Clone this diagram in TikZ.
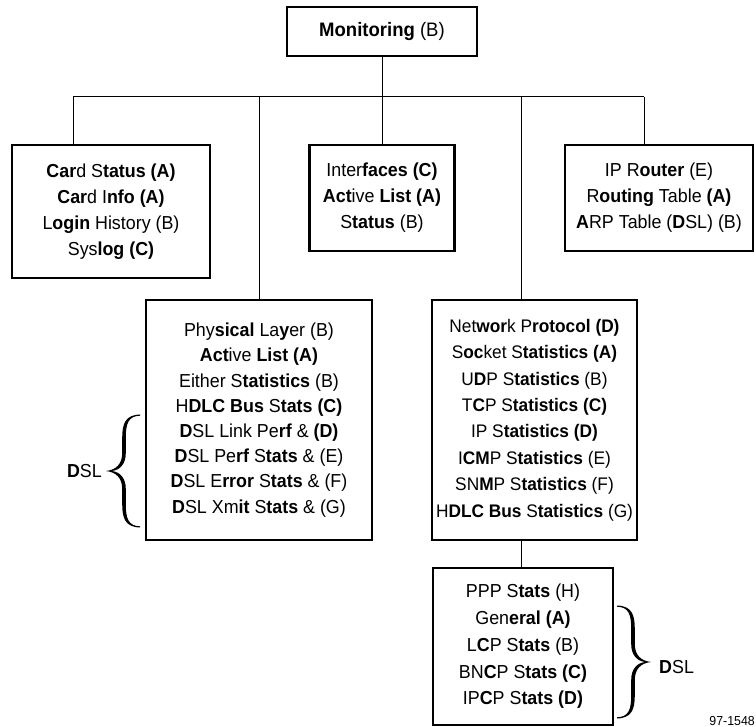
\documentclass[tikz,border=0pt]{standalone}
\usepackage{fontspec}
\setmainfont{Liberation Sans}[FakeStretch=0.95]
\newcommand\hk[1]{\textbf{#1}}
% a curly brace, tip at the origin, opening towards +x
\newcommand\bracefill{%
  \fill (33,-56.5) .. controls (18,-56) and (15.2,-47) .. (15.2,-33) -- (15.2,-18)
    .. controls (15.2,-7) and (9,-1) .. (-1,0)
    .. controls (9,1) and (15.2,7) .. (15.2,18) -- (15.2,33)
    .. controls (15.2,47) and (18,56) .. (33,56.5) -- (33,55.3)
    .. controls (21,55) and (18.8,47) .. (18.8,33) -- (18.8,18)
    .. controls (18.8,7) and (13,1) .. (5,0)
    .. controls (13,-1) and (18.8,-7) .. (18.8,-18) -- (18.8,-33)
    .. controls (18.8,-47) and (21,-55) .. (33,-55.3) -- cycle;}
\tikzset{
  box/.style={draw, line width=2.4pt, align=center, inner sep=0pt,
    font=\fontsize{18.8}{26}\selectfont},
  link/.style={line width=1pt},
  lbl/.style={inner sep=0pt, font=\fontsize{18.8}{22}\selectfont}
}
\begin{document}
\begin{tikzpicture}[x=1pt,y=-1pt]
\useasboundingbox (0,0) rectangle (756,727);

% top level
\node[box, minimum width=190, minimum height=49, font=\fontsize{19.5}{24}\selectfont] (mon) at (382,31.5) {\hk{Monitoring} (B)};

% second row
\node[box, minimum width=198, minimum height=133] (card) at (111,211.5)
  {\hk{Car}d S\hk{tatus} \hk{(A)}\\ \hk{Car}d I\hk{nfo} \hk{(A)}\\ L\hk{ogin} History (B)\\ Sys\hk{log} \hk{(C)}};
\node[box, minimum width=145, minimum height=106] (iface) at (382,198)
  {Inter\hk{faces} \hk{(C)}\\ \hk{Act}ive \hk{List (A)}\\ S\hk{tatus} (B)};
\node[box, minimum width=188, minimum height=106] (iprt) at (659,198)
  {IP R\hk{outer} (E)\\ R\hk{outing} Table \hk{(A)}\\ \hk{A}RP Table (\hk{D}SL) (B)};

% third row
\node[box, minimum width=226, minimum height=240, font=\fontsize{18.8}{25.2}\selectfont] (phys) at (259,420)
  {Phy\hk{sical} La\hk{y}er (B)\\ \hk{Act}ive \hk{List (A)}\\ Either S\hk{tatistics} (B)\\
   H\hk{DLC Bus} S\hk{tats (C)}\\ \hk{D}SL Link Pe\hk{rf} \& \hk{(D)}\\ \hk{D}SL Pe\hk{rf} S\hk{tats} \& (E)\\
   \hk{D}SL E\hk{rror} S\hk{tats} \& (F)\\ \hk{D}SL Xm\hk{it} S\hk{tats} \& (G)};
\node[box, minimum width=205, minimum height=240, font=\fontsize{18.2}{26.4}\selectfont] (net) at (534.5,420)
  {Net\hk{wor}k P\hk{rotocol} \hk{(D)}\\ S\hk{oc}ket S\hk{tatistics} \hk{(A)}\\ U\hk{D}P S\hk{tatistics} (B)\\
   T\hk{C}P S\hk{tatistics} \hk{(C)}\\ IP S\hk{tatistics} \hk{(D)}\\ I\hk{CM}P S\hk{tatistics} (E)\\
   SN\hk{M}P S\hk{tatistics} (F)\\ H\hk{DLC Bus} S\hk{tatistics} (G)};

% fourth row
\node[box, minimum width=180, minimum height=157, font=\fontsize{18.8}{26.7}\selectfont] (ppp) at (523,646.5)
  {PPP S\hk{tats} (H)\\ Gen\hk{eral} \hk{(A)}\\ L\hk{C}P S\hk{tats} (B)\\ BN\hk{C}P S\hk{tats} \hk{(C)}\\ IP\hk{C}P S\hk{tats} \hk{(D)}};

% bus and drops
\coordinate (jc) at (73,97);
\coordinate (jp) at (259,97);
\coordinate (jn) at (521,97);
\coordinate (ji) at (644,97);
\draw[link] (jc) -- (ji);
\draw[link] (mon.south) -- (mon.south |- jc);
\draw[link] (jc) -- (jc |- card.north);
\draw[link] (jp) -- (jp |- phys.north);
\draw[link] (mon.south |- jc) -- (iface.north);
\draw[link] (jn) -- (jn |- net.north);
\draw[link] (ji) -- (ji |- iprt.north);
\draw[link] (jn |- net.south) -- (jn |- ppp.north);

% braces with their labels
\begin{scope}[shift={(107,471)}]
  \bracefill
\end{scope}
\node[lbl, anchor=east] (dslL) at (102,471) {\hk{D}SL};

\begin{scope}[shift={(650,662)}, xscale=-1]
  \bracefill
\end{scope}
\node[lbl, anchor=west] (dslR) at (659,667) {\hk{D}SL};

\node[inner sep=0pt, anchor=east, font=\fontsize{13}{15}\selectfont] (fig) at (755,721) {97-1548};
\end{tikzpicture}
\end{document}
